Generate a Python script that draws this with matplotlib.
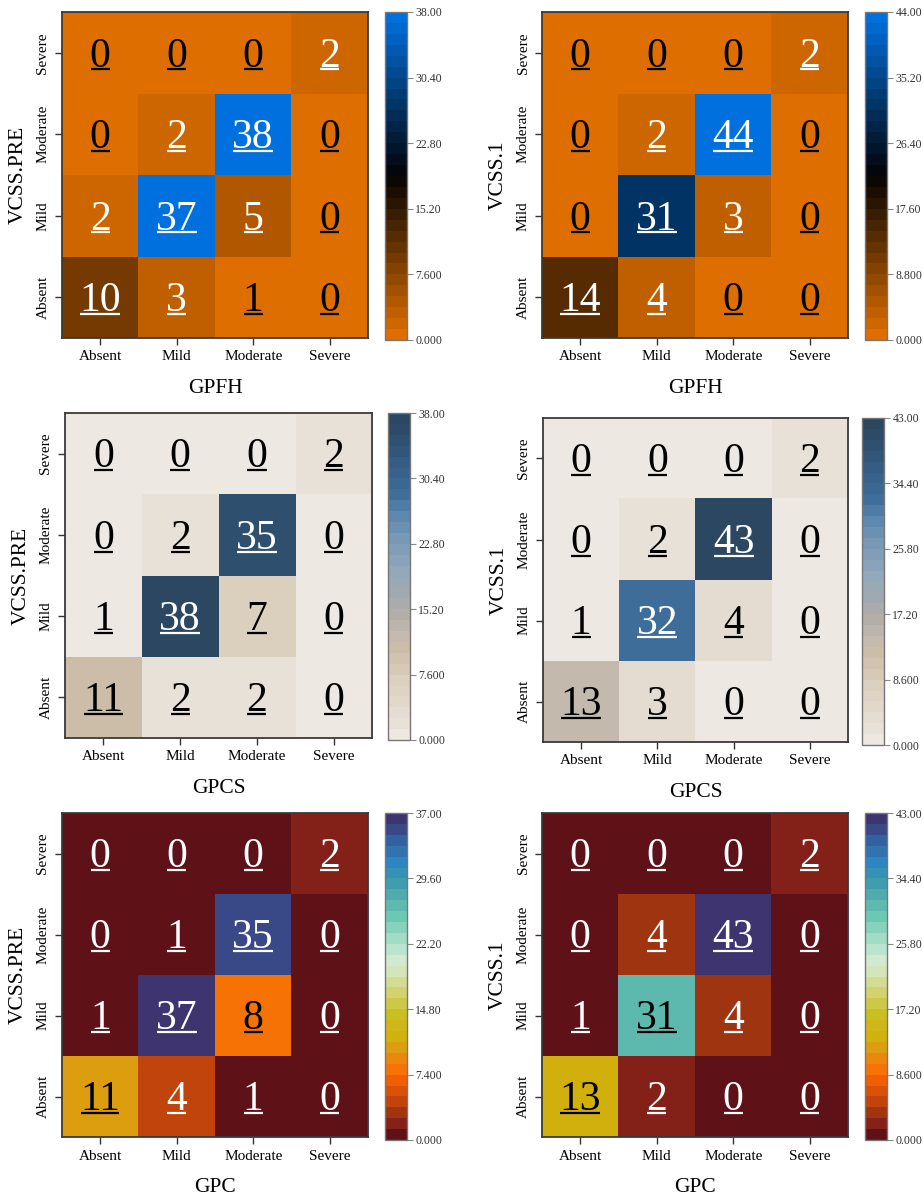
import numpy as np
import matplotlib
matplotlib.use('Agg')
import matplotlib.pyplot as plt
from matplotlib.colors import LinearSegmentedColormap, to_rgb

plt.rcParams['font.family'] = 'serif'
plt.rcParams['font.serif'] = ['Liberation Serif', 'DejaVu Serif']

# %%
# categories (rows bottom -> top: Absent .. Severe)
levels = ['Absent', 'Mild', 'Moderate', 'Severe']

# row 1: GPFH
gpfh_pre = [[10, 3, 1, 0],
            [2, 37, 5, 0],
            [0, 2, 38, 0],
            [0, 0, 0, 2]]
gpfh_1 = [[14, 4, 0, 0],
          [0, 31, 3, 0],
          [0, 2, 44, 0],
          [0, 0, 0, 2]]

# row 2: GPCS
gpcs_pre = [[11, 2, 2, 0],
            [1, 38, 7, 0],
            [0, 2, 35, 0],
            [0, 0, 0, 2]]
gpcs_1 = [[13, 3, 0, 0],
          [1, 32, 4, 0],
          [0, 2, 43, 0],
          [0, 0, 0, 2]]

# row 3: GPC
gpc_pre = [[11, 4, 1, 0],
           [1, 37, 8, 0],
           [0, 1, 35, 0],
           [0, 0, 0, 2]]
gpc_1 = [[13, 2, 0, 0],
         [1, 31, 4, 0],
         [0, 4, 43, 0],
         [0, 0, 0, 2]]

# %%
# colour maps, 30 discrete bands like the original
cmap_orange_blue = LinearSegmentedColormap.from_list(
    'ob', [(0.0, '#DE6E00'), (0.5, '#030303'), (1.0, '#0070DE')], N=30)

cmap_sand_blue = LinearSegmentedColormap.from_list(
    'sb', [(0.0, '#EDE8E1'), (0.0345, '#E8E1D7'), (0.172, '#DCD0BE'), (0.276, '#CBBDA8'),
           (0.31, '#C4BBAE'), (0.38, '#B3AFA8'), (0.45, '#A0A9B0'), (0.52, '#93A8BC'),
           (0.62, '#7898B6'), (0.70, '#5A86AE'), (0.76, '#3E6D9A'), (0.85, '#365E86'),
           (0.93, '#2F506F'), (1.0, '#2B4762')], N=30)

cmap_red_purple = LinearSegmentedColormap.from_list(
    'rp', [(0.0, '#5E1117'), (0.0345, '#84221A'), (0.069, '#A03510'), (0.103, '#C0440C'),
           (0.17, '#F25C05'), (0.207, '#F77306'), (0.276, '#DC9E10'), (0.31, '#D2B00E'),
           (0.38, '#C8C020'), (0.45, '#D2D272'), (0.52, '#D6E6BC'), (0.56, '#CDEBD3'),
           (0.62, '#A2DCC6'), (0.69, '#6CC8B2'), (0.745, '#55B0AC'), (0.80, '#3C9AAE'),
           (0.86, '#2E86C0'), (0.93, '#3262A0'), (0.966, '#3A4886'), (1.0, '#3D3470')], N=30)


def fmt4(v, pos=None):
    if v == 0:
        return '0.000'
    d = max(0, 3 - int(np.floor(np.log10(abs(v)))))
    return f'{v:.{d}f}'


W, H = 923, 1199
fig = plt.figure(figsize=(W / 100, H / 100), dpi=100)


def px_axes(x0, y0, x1, y1):
    return fig.add_axes([x0 / W, 1 - y1 / H, (x1 - x0) / W, (y1 - y0) / H])


def draw_heat(mat, cmap, pos, cpos, xlab, ylab):
    mat = np.array(mat)
    vmax = mat.max()
    ax = px_axes(*pos)
    cax = px_axes(*cpos)
    im = ax.imshow(mat, cmap=cmap, vmin=0, vmax=vmax, origin='lower', aspect='auto',
                   interpolation='nearest')
    ax.set_xticks(range(4))
    ax.set_yticks(range(4))
    ax.set_xticklabels(levels, fontsize=11)
    ax.set_yticklabels(levels, fontsize=11, rotation=90, va='center')
    ax.tick_params(length=5, width=1, color='#333333', pad=4)
    ax.set_xlabel(xlab, fontsize=15.5, labelpad=11)
    ax.set_ylabel(ylab, fontsize=15.5, labelpad=6)
    for s in ax.spines.values():
        s.set_color('#3a3a3a')
        s.set_linewidth(1.3)

    renderer = fig.canvas.get_renderer()
    for i in range(4):
        for j in range(4):
            v = mat[i, j]
            r, g, b = to_rgb(cmap(v / vmax))
            lum = 0.299 * r + 0.587 * g + 0.114 * b
            tc = 'black' if lum > 0.5 else 'white'
            t = ax.text(j, i - 0.17, str(v), ha='center', va='baseline', fontsize=30, color=tc)
            bb = t.get_window_extent(renderer).transformed(ax.transData.inverted())
            ax.plot([bb.x0 + 0.01, bb.x1 - 0.01], [i - 0.205, i - 0.205], color=tc, lw=1.6,
                    solid_capstyle='butt')
    ax.set_xlim(-0.5, 3.5)
    ax.set_ylim(-0.5, 3.5)

    cb = fig.colorbar(im, cax=cax, ticks=np.linspace(0, vmax, 6), format=fmt4)
    cb.outline.set_edgecolor('#777777')
    cb.outline.set_linewidth(1)
    cax.tick_params(labelsize=8.5, length=4, width=0.8, color='#888888', labelcolor='#333333', pad=2)


draw_heat(gpfh_pre, cmap_orange_blue, (62, 12, 368, 338), (385, 12, 407, 340), 'GPFH', 'VCSS.PRE')
draw_heat(gpfh_1, cmap_orange_blue, (542, 12, 848, 338), (865, 12, 887, 340), 'GPFH', 'VCSS.1')
draw_heat(gpcs_pre, cmap_sand_blue, (65, 413, 372, 738), (388, 413, 410, 740), 'GPCS', 'VCSS.PRE')
draw_heat(gpcs_1, cmap_sand_blue, (543, 418, 848, 742), (862, 418, 884, 745), 'GPCS', 'VCSS.1')
draw_heat(gpc_pre, cmap_red_purple, (62, 813, 368, 1137), (385, 813, 407, 1140), 'GPC', 'VCSS.PRE')
draw_heat(gpc_1, cmap_red_purple, (542, 813, 848, 1137), (865, 813, 887, 1140), 'GPC', 'VCSS.1')

fig.savefig('out.png', dpi=100)
